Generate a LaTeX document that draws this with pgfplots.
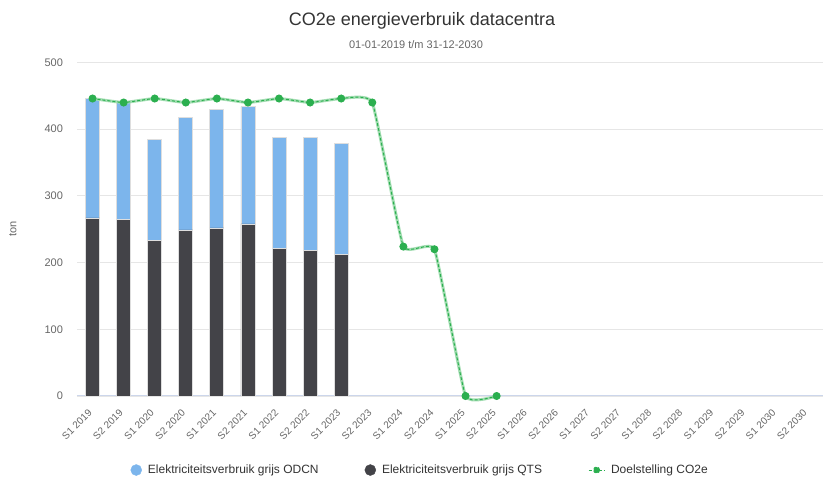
\documentclass[border=0pt]{standalone}
\usepackage{pgfplots}
\pgfplotsset{compat=1.18}
\usepackage{fontspec}
\setmainfont{Liberation Sans}
\definecolor{odcn}{HTML}{7CB5EC}
\definecolor{qts}{HTML}{434348}
\definecolor{goal}{HTML}{2BAF4F}
\definecolor{goallight}{HTML}{A3DDB2}
\definecolor{gridc}{HTML}{E6E6E6}
\definecolor{axisc}{HTML}{CCD6EB}
\definecolor{labc}{HTML}{666666}
\definecolor{titc}{HTML}{333333}
\definecolor{barborder}{HTML}{DEDEDE}

\pgfplotsset{
  base/.style={
    scale only axis, width=746pt, height=333.5pt,
    at={(77pt,83pt)}, anchor=south west,
    xmin=-0.5, xmax=23.5, ymin=0, ymax=500,
  }
}

\begin{document}
\begin{tikzpicture}
\useasboundingbox (0,0) rectangle (823pt,479pt);

\node[font=\fontsize{18}{22}\selectfont, text=titc, anchor=base] at (422pt,453pt) {CO2e energieverbruik datacentra};
\node[font=\fontsize{11}{13}\selectfont, text=labc, anchor=base] at (416pt,430.7pt) {01-01-2019 t/m 31-12-2030};

\begin{axis}[base,
  ybar stacked, bar width=14pt,
  axis x line*=bottom, axis y line*=left,
  x axis line style={axisc, line width=1pt},
  y axis line style={draw=none},
  major tick length=0pt,
  tick style={draw=none},
  ytick={0,100,200,300,400,500},
  ymajorgrids, grid style={gridc, line width=0.8pt},
  xtick={0,...,23},
  xticklabels={S1 2019,S2 2019,S1 2020,S2 2020,S1 2021,S2 2021,S1 2022,S2 2022,S1 2023,S2 2023,S1 2024,S2 2024,S1 2025,S2 2025,S1 2026,S2 2026,S1 2027,S2 2027,S1 2028,S2 2028,S1 2029,S2 2029,S1 2030,S2 2030},
  /pgf/number format/assume math mode=true,
  yticklabel style={font=\fontsize{11}{13}\selectfont, text=labc, anchor=east, xshift=-10.5pt},
  xticklabel style={font=\fontsize{10}{12}\selectfont, text=labc, yshift=-13pt, rotate=45, anchor=east},
  ylabel={ton},
  every axis y label/.style={at={(axis description cs:-0.0858,0.5)}, anchor=center, rotate=90, font=\fontsize{11}{13}\selectfont, text=labc},
]
\addplot[fill=qts, draw=barborder, line width=0.8pt] coordinates {
  (0,267) (1,265) (2,233) (3,249) (4,252) (5,258) (6,221) (7,218) (8,212)};
\addplot[fill=odcn, draw=barborder, line width=0.8pt] coordinates {
  (0,179) (1,175) (2,151) (3,168) (4,177) (5,176) (6,167) (7,170) (8,167)};
\end{axis}

\begin{axis}[base, hide axis, clip=false,
  legend columns=3,
  legend style={at={(0.46,-0.222)}, anchor=center, draw=none, fill=none,
    font=\fontsize{12}{14}\selectfont, text=titc,
    /tikz/every odd column/.append style={column sep=4pt},
    /tikz/every even column/.append style={column sep=44pt}},
]
\addlegendimage{legend image code/.code={\fill[odcn] (0pt,0pt) circle (5.5pt);}}
\addlegendentry{Elektriciteitsverbruik grijs ODCN}
\addlegendimage{legend image code/.code={\fill[qts] (0pt,0pt) circle (5.5pt);}}
\addlegendentry{Elektriciteitsverbruik grijs QTS}
\addplot[goallight, line width=3pt, smooth, /tikz/tension=0.22, forget plot] coordinates {
  (0,446) (1,440) (2,446) (3,440) (4,446) (5,440) (6,446) (7,440) (8,446) (9,440)
  (10,224) (11,220) (12,0) (13,0)};
\addplot[goal, line width=1pt, dash pattern=on 3pt off 2pt, smooth, /tikz/tension=0.22,
  mark=*, mark size=3.5pt, mark options={solid, fill=goal, draw=goal},
  legend image code/.code={\draw[goal, line width=1pt, dash pattern=on 3pt off 2pt] (-8pt,0pt) -- (8pt,0pt); \fill[goal] (0pt,0pt) circle (3pt);}] coordinates {
  (0,446) (1,440) (2,446) (3,440) (4,446) (5,440) (6,446) (7,440) (8,446) (9,440)
  (10,224) (11,220) (12,0) (13,0)};
\addlegendentry{Doelstelling CO2e}
\end{axis}
\end{tikzpicture}
\end{document}
